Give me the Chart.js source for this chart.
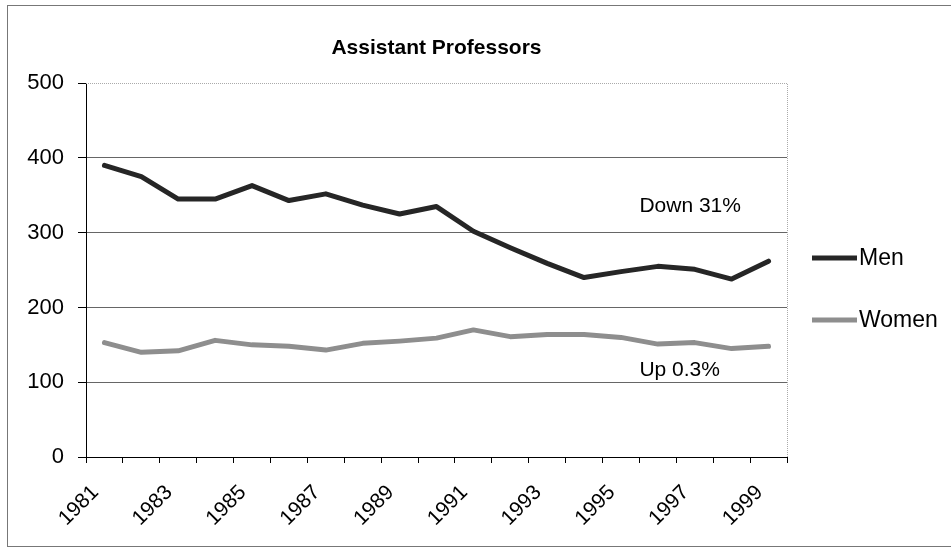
<!DOCTYPE html>
<html>
<head>
<meta charset="utf-8">
<title>Assistant Professors</title>
<script src="https://cdn.jsdelivr.net/npm/chart.js@4/dist/chart.umd.min.js"></script>
<style>
    html, body { margin: 0; padding: 0; background: #fff; }
    #wrap { width: 951px; height: 548px; position: relative; }
</style>
</head>
<body>
<div id="wrap"><canvas id="chart" width="951" height="548"></canvas></div>
<script>
// Data
const years = ['1981', '1982', '1983', '1984', '1985', '1986', '1987', '1988', '1989', '1990',
               '1991', '1992', '1993', '1994', '1995', '1996', '1997', '1998', '1999'];
const men = [390, 375, 345, 345, 363, 343, 352, 337, 325, 335, 302, 280, 259, 240, 248, 255, 251, 238, 262];
const women = [153, 140, 142, 156, 150, 148, 143, 152, 155, 159, 170, 161, 164, 164, 160, 151, 153, 145, 148];
const yTicks = [0, 100, 200, 300, 400, 500];
const notes = ['Down 31%', 'Up 0.3%'];

const FONT = "'Liberation Sans', Arial, sans-serif";

// Outer frame and dotted plot border
const framePlugin = {
    id: 'frame',
    beforeDraw(chart) {
        const ctx = chart.ctx;
        ctx.save();
        ctx.fillStyle = '#fff';
        ctx.fillRect(0, 0, chart.width, chart.height);
        ctx.strokeStyle = '#777';
        ctx.lineWidth = 1;
        ctx.strokeRect(7.5, 5.5, chart.width + 20, chart.height - 7);
        ctx.restore();
    },
    afterDraw(chart) {
        const a = chart.chartArea;
        const ctx = chart.ctx;
        ctx.save();
        ctx.strokeStyle = '#aaa';
        ctx.lineWidth = 1;
        ctx.setLineDash([1, 1]);
        ctx.beginPath();
        ctx.moveTo(a.left, Math.round(a.top) + 0.5);
        ctx.lineTo(Math.round(a.right) + 0.5, Math.round(a.top) + 0.5);
        ctx.lineTo(Math.round(a.right) + 0.5, a.bottom);
        ctx.stroke();
        ctx.restore();
    }
};

// Legend on the right and the two notes
const sidePlugin = {
    id: 'side',
    afterDatasetsDraw(chart) {
        const ctx = chart.ctx;
        const xs = chart.scales.x;
        const ys = chart.scales.y;
        ctx.save();
        ctx.font = '21px ' + FONT;
        ctx.fillStyle = '#000';
        ctx.textAlign = 'left';
        ctx.textBaseline = 'middle';
        ctx.fillText(notes[0], xs.getPixelForValue(14.5), ys.getPixelForValue(336));
        ctx.fillText(notes[1], xs.getPixelForValue(14.5), ys.getPixelForValue(116));

        const lx = chart.chartArea.right + 25;
        const rows = [258, 320];
        ctx.font = '23px ' + FONT;
        chart.data.datasets.forEach((ds, i) => {
            ctx.strokeStyle = ds.borderColor;
            ctx.lineWidth = ds.borderWidth;
            ctx.lineCap = 'butt';
            ctx.beginPath();
            ctx.moveTo(lx, rows[i]);
            ctx.lineTo(lx + 45, rows[i]);
            ctx.stroke();
            ctx.fillText(ds.label, lx + 47, rows[i] + 1);
        });
        ctx.restore();
    }
};

const ctx = document.getElementById('chart').getContext('2d');
new Chart(ctx, {
    type: 'line',
    data: {
        labels: years,
        datasets: [
            {
                label: 'Men',
                data: men,
                borderColor: '#262626',
                borderWidth: 5,
                pointRadius: 0,
                tension: 0,
                borderJoinStyle: 'round',
                borderCapStyle: 'round'
            },
            {
                label: 'Women',
                data: women,
                borderColor: '#8e8e8e',
                borderWidth: 5,
                pointRadius: 0,
                tension: 0,
                borderJoinStyle: 'round',
                borderCapStyle: 'round'
            }
        ]
    },
    options: {
        responsive: false,
        animation: false,
        events: [],
        layout: { padding: { top: 0, right: 164, bottom: 0, left: 0 } },
        plugins: {
            legend: { display: false },
            tooltip: { enabled: false },
            title: {
                display: true,
                text: 'Assistant Professors',
                fullSize: false,
                color: '#000',
                font: { family: FONT, size: 21, weight: 'bold' },
                padding: { top: 36, bottom: 22 }
            }
        },
        scales: {
            x: {
                offset: true,
                grid: {
                    offset: true,
                    drawOnChartArea: false,
                    drawTicks: true,
                    tickLength: 6,
                    tickColor: '#000'
                },
                border: { color: '#000', width: 1 },
                ticks: {
                    autoSkip: false,
                    minRotation: 45,
                    maxRotation: 45,
                    padding: 12,
                    labelOffset: -9,
                    color: '#000',
                    font: { family: FONT, size: 21, lineHeight: 1.9 },
                    callback: function(value, index) {
                        return index % 2 === 0 ? this.getLabelForValue(value) : '';
                    }
                },
                afterFit: function(scale) { scale.height = 548 - 457; }
            },
            y: {
                min: 0,
                max: 500,
                afterBuildTicks: function(scale) {
                    scale.ticks = yTicks.map(v => ({ value: v }));
                },
                grid: {
                    color: function(c) { return c.tick && c.tick.value === 500 ? 'rgba(0,0,0,0)' : '#666'; },
                    tickColor: '#000',
                    tickLength: 8,
                    lineWidth: 1
                },
                border: { color: '#000', width: 1 },
                ticks: {
                    padding: 14,
                    color: '#000',
                    font: { family: FONT, size: 22 }
                },
                afterFit: function(scale) { scale.width = 86; }
            }
        }
    },
    plugins: [framePlugin, sidePlugin]
});
</script>
</body>
</html>
